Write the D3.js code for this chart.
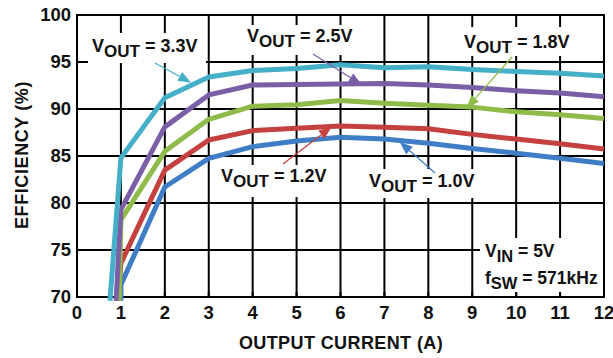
<!DOCTYPE html>
<html>
<head>
<meta charset="utf-8">
<script src="https://cdn.jsdelivr.net/npm/d3@7"></script>
<style>
  body { margin: 0; background: #fff; }
  svg text { font-family: Arial, "Liberation Sans", sans-serif; font-weight: bold; fill: #111; }
</style>
</head>
<body>
<div id="chart"></div>
<script>
// Efficiency vs output current, one series per output voltage
var currentA = [1, 2, 3, 4, 5, 6, 7, 8, 9, 10, 11, 12];
var eff33 = [84.8, 91.2, 93.4, 94.1, 94.3, 94.7, 94.4, 94.5, 94.2, 94.0, 93.8, 93.5];
var eff25 = [79.3, 88.1, 91.5, 92.55, 92.6, 92.65, 92.7, 92.55, 92.3, 91.95, 91.7, 91.3];
var eff18 = [78.2, 85.5, 88.9, 90.3, 90.45, 90.9, 90.6, 90.4, 90.2, 89.7, 89.4, 89.0];
var eff12 = [73.6, 83.5, 86.7, 87.7, 87.95, 88.2, 88.05, 87.9, 87.3, 86.8, 86.3, 85.75];
var eff10 = [71.3, 81.7, 84.75, 86.0, 86.6, 87.0, 86.8, 86.35, 85.8, 85.3, 84.75, 84.2];
// where each curve leaves the bottom of the plot
var startCurrent = [0.75, 0.89, 0.96, 0.94, 1.0];
var startEff = 69.6;
var seriesNames = ["3.3V", "2.5V", "1.8V", "1.2V", "1.0V"];
var seriesColors = ["#45afc8", "#7b5fa6", "#8fbb4a", "#c4413f", "#3f7ec6"];
var xTicks = [0, 1, 2, 3, 4, 5, 6, 7, 8, 9, 10, 11, 12];
var yTicks = [70, 75, 80, 85, 90, 95, 100];

var svgWidth = 613;
var svgHeight = 358;
var margin = { top: 15, right: 9, bottom: 61, left: 77 };
var chartWidth = svgWidth - margin.left - margin.right;
var chartHeight = svgHeight - margin.top - margin.bottom;

var svg = d3.select("#chart").append("svg")
  .attr("width", svgWidth)
  .attr("height", svgHeight);

var chartGroup = svg.append("g")
  .attr("transform", `translate(${margin.left}, ${margin.top})`);

var xScale = d3.scaleLinear().domain([0, 12]).range([0, chartWidth]);
var yScale = d3.scaleLinear().domain([70, 100]).range([chartHeight, 0]);

// grid
var gridGroup = chartGroup.append("g");
gridGroup.selectAll(".vg").data(xTicks).enter().append("line")
  .attr("x1", d => xScale(d)).attr("x2", d => xScale(d))
  .attr("y1", 0).attr("y2", chartHeight)
  .attr("stroke", "#000").attr("stroke-width", 2);
gridGroup.selectAll(".hg").data(yTicks).enter().append("line")
  .attr("x1", 0).attr("x2", chartWidth)
  .attr("y1", d => yScale(d)).attr("y2", d => yScale(d))
  .attr("stroke", "#000").attr("stroke-width", 2);

// label layer (white boxes hide the grid behind the text)
var boxLayer = chartGroup.append("g");
var labelLayer = chartGroup.append("g");

function addLabel(x, y, parts, size) {
  var t = labelLayer.append("text")
    .attr("x", x).attr("y", y)
    .style("font-size", size + "px");
  parts.forEach(function(p) {
    var ts = t.append("tspan").text(p.text);
    if (p.sub) ts.attr("dy", 5).style("font-size", (size - 1) + "px");
    if (p.back) ts.attr("dy", -5);
  });
  return t;
}

function addBox(x0, y0, x1, y1) {
  boxLayer.append("rect")
    .attr("x", x0).attr("y", y0)
    .attr("width", x1 - x0).attr("height", y1 - y0)
    .attr("fill", "#fff");
}

// positions given in page pixels, shifted into the chart group
var ox = margin.left, oy = margin.top;
var labelPos = [
  { x: 92, y: 52, box: [83, 33, 206, 63] },
  { x: 247, y: 42, box: [240, 25, 360, 55] },
  { x: 464, y: 48, box: [457, 27, 580, 56] },
  { x: 221, y: 182, box: [214, 165, 335, 197] },
  { x: 369, y: 187, box: [362, 169, 484, 198] }
];

seriesNames.forEach(function(name, i) {
  var p = labelPos[i];
  addBox(p.box[0] - ox, p.box[1] - oy, p.box[2] - ox, p.box[3] - oy);
  addLabel(p.x - ox, p.y - oy, [
    { text: "V" },
    { text: "OUT", sub: true },
    { text: " = " + name, back: true }
  ], 18);
});

addBox(480 - ox, 238 - oy, 603 - ox, 292 - oy);
addLabel(485 - ox, 257 - oy, [{ text: "V" }, { text: "IN", sub: true }, { text: " = 5V", back: true }], 17.5);
addLabel(485 - ox, 284 - oy, [{ text: "f" }, { text: "SW", sub: true }, { text: " = 571kHz", back: true }], 17.5);

// inner ticks on left and bottom
chartGroup.selectAll(".yt").data(yTicks).enter().append("line")
  .attr("x1", 0).attr("x2", 11)
  .attr("y1", d => yScale(d)).attr("y2", d => yScale(d))
  .attr("stroke", "#000").attr("stroke-width", 2);
chartGroup.selectAll(".xt").data(xTicks).enter().append("line")
  .attr("x1", d => xScale(d)).attr("x2", d => xScale(d))
  .attr("y1", chartHeight).attr("y2", chartHeight - 5)
  .attr("stroke", "#000").attr("stroke-width", 2);

// frame
chartGroup.append("rect")
  .attr("x", 0).attr("y", 0)
  .attr("width", chartWidth).attr("height", chartHeight)
  .attr("fill", "none").attr("stroke", "#000").attr("stroke-width", 2);

// curves
var line = d3.line()
  .x(d => xScale(d[0]))
  .y(d => yScale(d[1]));

var effSeries = [eff33, eff25, eff18, eff12, eff10];
var drawOrder = [4, 3, 2, 1, 0];
drawOrder.forEach(function(i) {
  var pts = [[startCurrent[i], startEff]].concat(currentA.map((c, k) => [c, effSeries[i][k]]));
  chartGroup.append("path")
    .datum(pts)
    .attr("d", line)
    .attr("fill", "none")
    .attr("stroke", seriesColors[i])
    .attr("stroke-width", 5)
    .attr("stroke-linejoin", "round");
});

// arrows from labels to curves: [from x, from y] in page pixels, tip as [current, efficiency]
var arrowFrom = [[155, 63], [313, 54], [512, 57], [283, 164], [435, 173]];
var arrowTo = [[2.6, 92.8], [6.48, 92.6], [8.87, 90.1], [5.8, 88.1], [7.35, 86.5]];
arrowFrom.forEach(function(f, i) {
  var x0 = f[0] - ox, y0 = f[1] - oy;
  var x1 = xScale(arrowTo[i][0]), y1 = yScale(arrowTo[i][1]);
  var ang = Math.atan2(y1 - y0, x1 - x0);
  var len = 13, half = 5;
  var bx = x1 - len * Math.cos(ang), by = y1 - len * Math.sin(ang);
  chartGroup.append("line")
    .attr("x1", x0).attr("y1", y0).attr("x2", bx).attr("y2", by)
    .attr("stroke", seriesColors[i]).attr("stroke-width", 1.2);
  var pts = [
    [x1, y1],
    [bx + half * Math.sin(ang), by - half * Math.cos(ang)],
    [bx - half * Math.sin(ang), by + half * Math.cos(ang)]
  ];
  chartGroup.append("path")
    .attr("d", "M" + pts.map(p => p.join(",")).join("L") + "Z")
    .attr("fill", seriesColors[i]);
});

// tick labels
svg.selectAll(".xl").data(xTicks).enter().append("text")
  .attr("x", d => margin.left + xScale(d))
  .attr("y", 319)
  .attr("text-anchor", "middle")
  .style("font-size", "18.5px")
  .text(d => d);
svg.selectAll(".yl").data(yTicks).enter().append("text")
  .attr("x", 71)
  .attr("y", d => margin.top + yScale(d) + 6)
  .attr("text-anchor", "end")
  .style("font-size", "18.5px")
  .text(d => d);

// axis titles
svg.append("text")
  .attr("transform", "translate(28, 155) rotate(-90)")
  .attr("text-anchor", "middle")
  .style("font-size", "18px")
  .style("letter-spacing", "0.6px")
  .text("EFFICIENCY (%)");
svg.append("text")
  .attr("x", 341)
  .attr("y", 349)
  .attr("text-anchor", "middle")
  .style("font-size", "18px")
  .style("letter-spacing", "0.4px")
  .text("OUTPUT CURRENT (A)");
</script>
</body>
</html>
